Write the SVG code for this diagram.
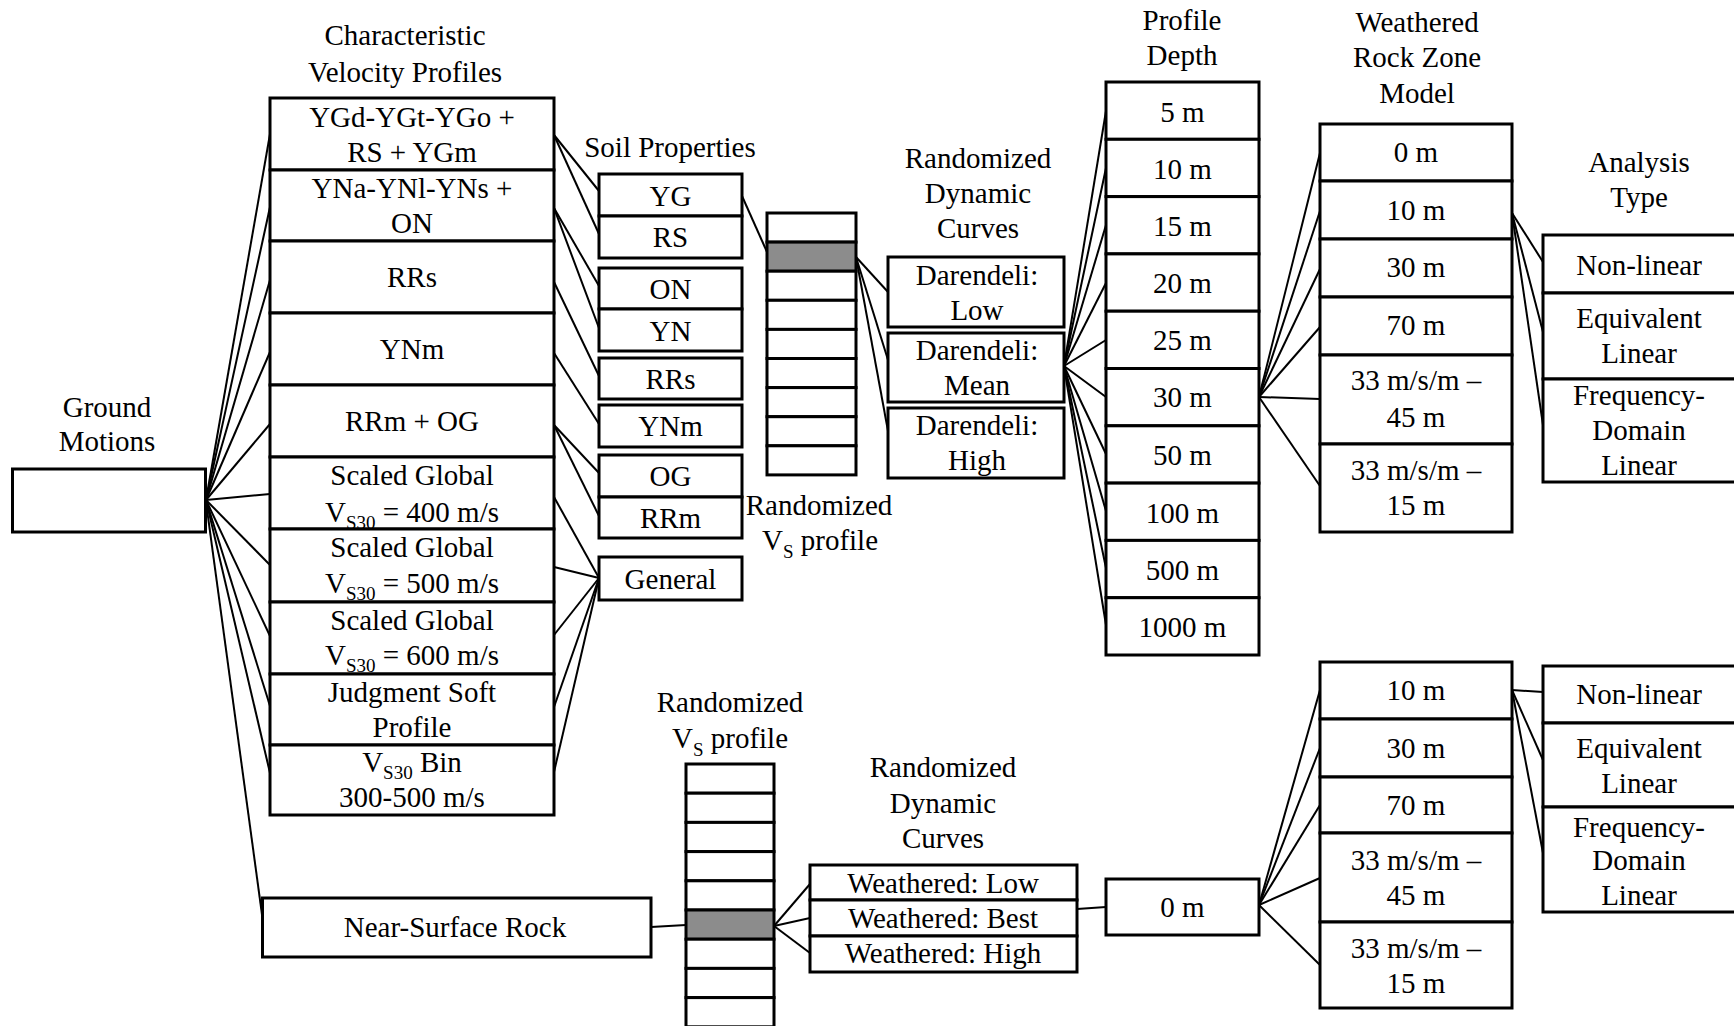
<svg xmlns="http://www.w3.org/2000/svg" width="1734" height="1026" viewBox="0 0 1734 1026">
<style>
.bx{fill:#fff;stroke:#000;stroke-width:3}
.sh{fill:#8c8c8c;stroke:#000;stroke-width:3}
text{font-family:"Liberation Serif","Times New Roman",serif;font-size:29px;text-anchor:middle;fill:#000}
.sub{font-size:19px}
#connectors line{stroke:#000;stroke-width:2;fill:none}
</style>
<rect width="1734" height="1026" fill="#fff"/>

<g id="labels">
<text x="405" y="45">Characteristic</text>
<text x="405" y="82">Velocity Profiles</text>
<text x="107" y="417">Ground</text>
<text x="107" y="451">Motions</text>
<text x="670" y="157">Soil Properties</text>
<text x="819" y="515">Randomized</text>
<text x="820" y="550">V<tspan class="sub" dy="8">S</tspan><tspan dy="-8"> profile</tspan></text>
<text x="978" y="168">Randomized</text>
<text x="978" y="203">Dynamic</text>
<text x="978" y="238">Curves</text>
<text x="1182" y="30">Profile</text>
<text x="1182" y="65">Depth</text>
<text x="1417" y="32">Weathered</text>
<text x="1417" y="67">Rock Zone</text>
<text x="1417" y="103">Model</text>
<text x="1639" y="172">Analysis</text>
<text x="1639" y="207">Type</text>
<text x="730" y="712">Randomized</text>
<text x="730" y="748">V<tspan class="sub" dy="8">S</tspan><tspan dy="-8"> profile</tspan></text>
<text x="943" y="777">Randomized</text>
<text x="943" y="813">Dynamic</text>
<text x="943" y="848">Curves</text>
</g>

<g id="connectors">
<!-- ground fan -->
<line x1="206" y1="500" x2="270" y2="134"/>
<line x1="206" y1="500" x2="270" y2="207"/>
<line x1="206" y1="500" x2="270" y2="280"/>
<line x1="206" y1="500" x2="270" y2="352"/>
<line x1="206" y1="500" x2="270" y2="424"/>
<line x1="206" y1="500" x2="270" y2="494"/>
<line x1="206" y1="500" x2="270" y2="565"/>
<line x1="206" y1="500" x2="270" y2="636"/>
<line x1="206" y1="500" x2="270" y2="706"/>
<line x1="206" y1="500" x2="270" y2="773"/>
<line x1="206" y1="502" x2="263" y2="922"/>
<!-- velocity to soil -->
<line x1="554" y1="135" x2="599" y2="191"/>
<line x1="554" y1="135" x2="599" y2="234"/>
<line x1="554" y1="208" x2="599" y2="286"/>
<line x1="554" y1="208" x2="599" y2="328"/>
<line x1="554" y1="282" x2="599" y2="376"/>
<line x1="554" y1="353" x2="599" y2="424"/>
<line x1="554" y1="425" x2="599" y2="473"/>
<line x1="554" y1="425" x2="599" y2="516"/>
<line x1="554" y1="497" x2="599" y2="578"/>
<line x1="554" y1="567" x2="599" y2="578"/>
<line x1="554" y1="635" x2="599" y2="578"/>
<line x1="554" y1="707" x2="599" y2="578"/>
<line x1="554" y1="772" x2="599" y2="578"/>
<!-- soil to profile -->
<line x1="742" y1="196" x2="767" y2="252"/>
<!-- profile to darendeli -->
<line x1="856" y1="257" x2="888" y2="292"/>
<line x1="856" y1="257" x2="888" y2="360"/>
<line x1="856" y1="257" x2="888" y2="431"/>
<!-- darendeli mean to depth -->
<line x1="1064" y1="366" x2="1106" y2="111"/>
<line x1="1064" y1="366" x2="1106" y2="168"/>
<line x1="1064" y1="366" x2="1106" y2="225"/>
<line x1="1064" y1="366" x2="1106" y2="283"/>
<line x1="1064" y1="366" x2="1106" y2="340"/>
<line x1="1064" y1="366" x2="1106" y2="397"/>
<line x1="1064" y1="366" x2="1106" y2="454"/>
<line x1="1064" y1="366" x2="1106" y2="511"/>
<line x1="1064" y1="366" x2="1106" y2="568"/>
<line x1="1064" y1="366" x2="1106" y2="625"/>
<!-- depth 30 m to WRZ -->
<line x1="1259" y1="397" x2="1320" y2="153"/>
<line x1="1259" y1="397" x2="1320" y2="211"/>
<line x1="1259" y1="397" x2="1320" y2="269"/>
<line x1="1259" y1="397" x2="1320" y2="327"/>
<line x1="1259" y1="397" x2="1320" y2="399"/>
<line x1="1259" y1="397" x2="1320" y2="486"/>
<!-- WRZ 10 m to analysis -->
<line x1="1512" y1="213" x2="1543" y2="262"/>
<line x1="1512" y1="213" x2="1543" y2="332"/>
<line x1="1512" y1="213" x2="1543" y2="425"/>
<!-- bottom branch -->
<line x1="651" y1="927" x2="686" y2="925"/>
<line x1="774" y1="926" x2="810" y2="884"/>
<line x1="774" y1="926" x2="810" y2="918"/>
<line x1="774" y1="926" x2="810" y2="953"/>
<line x1="1077" y1="909" x2="1106" y2="907"/>
<line x1="1259" y1="905" x2="1320" y2="690"/>
<line x1="1259" y1="905" x2="1320" y2="748"/>
<line x1="1259" y1="905" x2="1320" y2="805"/>
<line x1="1259" y1="905" x2="1320" y2="878"/>
<line x1="1259" y1="905" x2="1320" y2="965"/>
<line x1="1512" y1="690" x2="1543" y2="692"/>
<line x1="1512" y1="690" x2="1543" y2="760"/>
<line x1="1512" y1="690" x2="1543" y2="853"/>
</g>

<g id="ground-motions"><rect class="bx" x="12.5" y="469" width="193" height="63"/></g>

<g id="vp-1"><rect class="bx" x="270" y="98" width="284" height="72"/><text x="412" y="127">YGd-YGt-YGo +</text><text x="412" y="162">RS + YGm</text></g>
<g id="vp-2"><rect class="bx" x="270" y="170" width="284" height="71"/><text x="412" y="198">YNa-YNl-YNs +</text><text x="412" y="233">ON</text></g>
<g id="vp-3"><rect class="bx" x="270" y="241" width="284" height="72"/><text x="412" y="287">RRs</text></g>
<g id="vp-4"><rect class="bx" x="270" y="313" width="284" height="72"/><text x="412" y="359">YNm</text></g>
<g id="vp-5"><rect class="bx" x="270" y="385" width="284" height="72"/><text x="412" y="431">RRm + OG</text></g>
<g id="vp-6"><rect class="bx" x="270" y="457" width="284" height="72"/><text x="412" y="485">Scaled Global</text><text x="412" y="522">V<tspan class="sub" dy="7">S30</tspan><tspan dy="-7"> = 400 m/s</tspan></text></g>
<g id="vp-7"><rect class="bx" x="270" y="529" width="284" height="73"/><text x="412" y="557">Scaled Global</text><text x="412" y="593">V<tspan class="sub" dy="7">S30</tspan><tspan dy="-7"> = 500 m/s</tspan></text></g>
<g id="vp-8"><rect class="bx" x="270" y="602" width="284" height="72"/><text x="412" y="630">Scaled Global</text><text x="412" y="665">V<tspan class="sub" dy="7">S30</tspan><tspan dy="-7"> = 600 m/s</tspan></text></g>
<g id="vp-9"><rect class="bx" x="270" y="674" width="284" height="71"/><text x="412" y="702">Judgment Soft</text><text x="412" y="737">Profile</text></g>
<g id="vp-10"><rect class="bx" x="270" y="745" width="284" height="70"/><text x="412" y="772">V<tspan class="sub" dy="7">S30</tspan><tspan dy="-7"> Bin</tspan></text><text x="412" y="807">300-500 m/s</text></g>

<g id="near-surface-rock"><rect class="bx" x="262.5" y="898" width="388.5" height="59"/><text x="455" y="937">Near-Surface Rock</text></g>

<g id="soil-yg"><rect class="bx" x="599" y="174" width="143" height="42"/><text x="670.5" y="206">YG</text></g>
<g id="soil-rs"><rect class="bx" x="599" y="216" width="143" height="42"/><text x="670.5" y="247">RS</text></g>
<g id="soil-on"><rect class="bx" x="599" y="268" width="143" height="41"/><text x="670.5" y="299">ON</text></g>
<g id="soil-yn"><rect class="bx" x="599" y="309" width="143" height="42"/><text x="670.5" y="341">YN</text></g>
<g id="soil-rrs"><rect class="bx" x="599" y="358" width="143" height="41"/><text x="670.5" y="389">RRs</text></g>
<g id="soil-ynm"><rect class="bx" x="599" y="405" width="143" height="42"/><text x="670.5" y="436">YNm</text></g>
<g id="soil-og"><rect class="bx" x="599" y="455" width="143" height="42"/><text x="670.5" y="486">OG</text></g>
<g id="soil-rrm"><rect class="bx" x="599" y="497" width="143" height="41"/><text x="670.5" y="528">RRm</text></g>
<g id="soil-general"><rect class="bx" x="599" y="557" width="143" height="43"/><text x="670.5" y="589">General</text></g>

<g id="vs-profile-upper">
<rect class="bx" x="767" y="213" width="89" height="29.1"/>
<rect class="sh" x="767" y="242.1" width="89" height="29.1"/>
<rect class="bx" x="767" y="271.2" width="89" height="29.1"/>
<rect class="bx" x="767" y="300.3" width="89" height="29.1"/>
<rect class="bx" x="767" y="329.4" width="89" height="29.1"/>
<rect class="bx" x="767" y="358.5" width="89" height="29.1"/>
<rect class="bx" x="767" y="387.6" width="89" height="29.1"/>
<rect class="bx" x="767" y="416.7" width="89" height="29.1"/>
<rect class="bx" x="767" y="445.8" width="89" height="29.1"/>
</g>

<g id="darendeli-low"><rect class="bx" x="888" y="257" width="176" height="70"/><text x="977" y="285">Darendeli:</text><text x="977" y="320">Low</text></g>
<g id="darendeli-mean"><rect class="bx" x="888" y="333" width="176" height="69"/><text x="977" y="360">Darendeli:</text><text x="977" y="395">Mean</text></g>
<g id="darendeli-high"><rect class="bx" x="888" y="408" width="176" height="70"/><text x="977" y="435">Darendeli:</text><text x="977" y="470">High</text></g>

<g id="depth-5"><rect class="bx" x="1106" y="82" width="153" height="57.3"/><text x="1182.5" y="122">5 m</text></g>
<g id="depth-10"><rect class="bx" x="1106" y="139.3" width="153" height="57.3"/><text x="1182.5" y="179">10 m</text></g>
<g id="depth-15"><rect class="bx" x="1106" y="196.6" width="153" height="57.3"/><text x="1182.5" y="236">15 m</text></g>
<g id="depth-20"><rect class="bx" x="1106" y="253.9" width="153" height="57.3"/><text x="1182.5" y="293">20 m</text></g>
<g id="depth-25"><rect class="bx" x="1106" y="311.2" width="153" height="57.3"/><text x="1182.5" y="350">25 m</text></g>
<g id="depth-30"><rect class="bx" x="1106" y="368.5" width="153" height="57.3"/><text x="1182.5" y="407">30 m</text></g>
<g id="depth-50"><rect class="bx" x="1106" y="425.8" width="153" height="57.3"/><text x="1182.5" y="465">50 m</text></g>
<g id="depth-100"><rect class="bx" x="1106" y="483.1" width="153" height="57.3"/><text x="1182.5" y="523">100 m</text></g>
<g id="depth-500"><rect class="bx" x="1106" y="540.4" width="153" height="57.3"/><text x="1182.5" y="580">500 m</text></g>
<g id="depth-1000"><rect class="bx" x="1106" y="597.7" width="153" height="57.3"/><text x="1182.5" y="637">1000 m</text></g>

<g id="wrz-0"><rect class="bx" x="1320" y="124" width="192" height="57"/><text x="1416" y="162">0 m</text></g>
<g id="wrz-10"><rect class="bx" x="1320" y="181" width="192" height="58"/><text x="1416" y="220">10 m</text></g>
<g id="wrz-30"><rect class="bx" x="1320" y="239" width="192" height="58"/><text x="1416" y="277">30 m</text></g>
<g id="wrz-70"><rect class="bx" x="1320" y="297" width="192" height="58"/><text x="1416" y="335">70 m</text></g>
<g id="wrz-33-45"><rect class="bx" x="1320" y="355" width="192" height="89"/><text x="1416" y="390">33 m/s/m –</text><text x="1416" y="427">45 m</text></g>
<g id="wrz-33-15"><rect class="bx" x="1320" y="444" width="192" height="88"/><text x="1416" y="480">33 m/s/m –</text><text x="1416" y="515">15 m</text></g>

<g id="analysis-nonlinear"><rect class="bx" x="1543" y="235" width="200" height="58"/><text x="1639" y="275">Non-linear</text></g>
<g id="analysis-eql"><rect class="bx" x="1543" y="293" width="200" height="86"/><text x="1639" y="328">Equivalent</text><text x="1639" y="363">Linear</text></g>
<g id="analysis-fdl"><rect class="bx" x="1543" y="379" width="200" height="103"/><text x="1639" y="405">Frequency-</text><text x="1639" y="440">Domain</text><text x="1639" y="475">Linear</text></g>

<g id="vs-profile-lower">
<rect class="bx" x="686" y="764" width="88" height="29.2"/>
<rect class="bx" x="686" y="793.2" width="88" height="29.2"/>
<rect class="bx" x="686" y="822.4" width="88" height="29.2"/>
<rect class="bx" x="686" y="851.6" width="88" height="29.2"/>
<rect class="bx" x="686" y="880.8" width="88" height="29.2"/>
<rect class="sh" x="686" y="910" width="88" height="29.2"/>
<rect class="bx" x="686" y="939.2" width="88" height="29.2"/>
<rect class="bx" x="686" y="968.4" width="88" height="29.2"/>
<rect class="bx" x="686" y="997.6" width="88" height="29.2"/>
</g>

<g id="weathered-low"><rect class="bx" x="810" y="865" width="267" height="35"/><text x="943" y="893">Weathered: Low</text></g>
<g id="weathered-best"><rect class="bx" x="810" y="900" width="267" height="36"/><text x="943" y="928">Weathered: Best</text></g>
<g id="weathered-high"><rect class="bx" x="810" y="936" width="267" height="36"/><text x="943" y="963">Weathered: High</text></g>

<g id="lower-depth-0"><rect class="bx" x="1106" y="879" width="153" height="56"/><text x="1182.5" y="917">0 m</text></g>

<g id="lwrz-10"><rect class="bx" x="1320" y="662" width="192" height="57"/><text x="1416" y="700">10 m</text></g>
<g id="lwrz-30"><rect class="bx" x="1320" y="719" width="192" height="58"/><text x="1416" y="758">30 m</text></g>
<g id="lwrz-70"><rect class="bx" x="1320" y="777" width="192" height="56"/><text x="1416" y="815">70 m</text></g>
<g id="lwrz-33-45"><rect class="bx" x="1320" y="833" width="192" height="89"/><text x="1416" y="870">33 m/s/m –</text><text x="1416" y="905">45 m</text></g>
<g id="lwrz-33-15"><rect class="bx" x="1320" y="922" width="192" height="86"/><text x="1416" y="958">33 m/s/m –</text><text x="1416" y="993">15 m</text></g>

<g id="lanalysis-nonlinear"><rect class="bx" x="1543" y="666" width="200" height="57"/><text x="1639" y="704">Non-linear</text></g>
<g id="lanalysis-eql"><rect class="bx" x="1543" y="723" width="200" height="84"/><text x="1639" y="758">Equivalent</text><text x="1639" y="793">Linear</text></g>
<g id="lanalysis-fdl"><rect class="bx" x="1543" y="807" width="200" height="105"/><text x="1639" y="837">Frequency-</text><text x="1639" y="870">Domain</text><text x="1639" y="905">Linear</text></g>
</svg>
